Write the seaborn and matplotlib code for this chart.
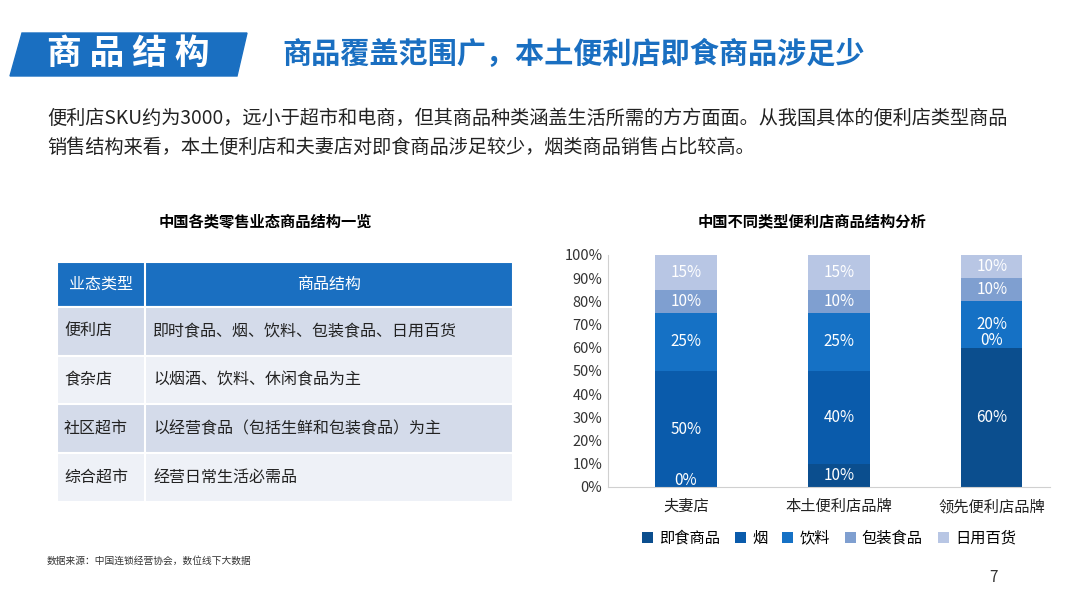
import matplotlib
matplotlib.use("Agg")
import matplotlib.pyplot as plt
import seaborn as sns
import pandas as pd
from matplotlib.patches import Polygon, Rectangle

plt.rcParams["font.family"] = "Noto Sans CJK SC"

stores = ["夫妻店", "本土便利店品牌", "领先便利店品牌"]
series_names = ["即食商品", "烟", "饮料", "包装食品", "日用百货"]
ready_food = [0, 10, 60]
tobacco = [50, 40, 0]
drinks = [25, 25, 20]
packaged = [10, 10, 10]
daily = [15, 15, 10]
series_values = [ready_food, tobacco, drinks, packaged, daily]
colors = ["#0b4e8e", "#0a5bab", "#1571c5", "#7f9fd0", "#b8c6e4"]
yticks = list(range(0, 101, 10))

table_header = ["业态类型", "商品结构"]
table_types = ["便利店", "食杂店", "社区超市", "综合超市"]
table_struct = ["即时食品、烟、饮料、包装食品、日用百货", "以烟酒、饮料、休闲食品为主",
                "以经营食品（包括生鲜和包装食品）为主", "经营日常生活必需品"]

W, H = 1080, 607
fig = plt.figure(figsize=(10.8, 6.07), dpi=100)
fig.patch.set_facecolor("white")

def fx(x): return x / W
def fy(y): return 1 - y / H

blue = "#1a6fc1"
fig.patches.append(Polygon([(fx(22), fy(33)), (fx(247), fy(33)), (fx(237), fy(76)), (fx(10), fy(76))],
                           closed=True, transform=fig.transFigure, color=blue))
fig.text(fx(128), fy(53), "商 品 结 构", color="white", fontsize=25, fontweight="bold", ha="center", va="center")
fig.text(fx(282), fy(54), "商品覆盖范围广，本土便利店即食商品涉足少", color=blue, fontsize=21,
         fontweight="bold", ha="left", va="center")
fig.text(fx(47), fy(118), "便利店SKU约为3000，远小于超市和电商，但其商品种类涵盖生活所需的方方面面。从我国具体的便利店类型商品",
         fontsize=13.8, color="#222222", ha="left", va="center")
fig.text(fx(47), fy(147), "销售结构来看，本土便利店和夫妻店对即食商品涉足较少，烟类商品销售占比较高。",
         fontsize=13.8, color="#222222", ha="left", va="center")

# table
fig.text(fx(265), fy(221), "中国各类零售业态商品结构一览", fontsize=11, fontweight="bold", ha="center", va="center")
rows_y = [262, 307, 356, 404, 453, 502]
x0, xs, x1 = 57, 145, 513
fills = [blue, "#d4dbea", "#eef1f7", "#d4dbea", "#eef1f7"]
for i in range(5):
    ytop, ybot = rows_y[i], rows_y[i + 1]
    fig.patches.append(Rectangle((fx(x0), fy(ybot)), fx(x1 - x0), (ybot - ytop) / H,
                                 transform=fig.transFigure, facecolor=fills[i], edgecolor="white", lw=1.5))
    fig.lines.append(plt.Line2D([fx(xs), fx(xs)], [fy(ytop), fy(ybot)], transform=fig.transFigure, color="white", lw=1.5))
    yc = fy((ytop + ybot) / 2)
    if i == 0:
        fig.text(fx(101), yc, table_header[0], color="white", fontsize=11.5, ha="center", va="center")
        fig.text(fx(329), yc, table_header[1], color="white", fontsize=11.5, ha="center", va="center")
    else:
        fig.text(fx(64), yc, table_types[i - 1], color="#222222", fontsize=11.5, ha="left", va="center")
        fig.text(fx(153), yc, table_struct[i - 1], color="#222222", fontsize=11.5, ha="left", va="center")

fig.text(fx(47), fy(561), "数据来源：中国连锁经营协会，数位线下大数据", fontsize=7, color="#333333", ha="left", va="center")
fig.text(fx(993), fy(578), "7", fontsize=11, color="#333333", ha="center", va="center")

# chart
fig.text(fx(812), fy(221), "中国不同类型便利店商品结构分析", fontsize=11, fontweight="bold", ha="center", va="center")
ax = fig.add_axes([fx(608), fy(487), fx(1050 - 608), (487 - 255) / H])
bottom = [0, 0, 0]
for name, vals, c in zip(series_names, series_values, colors):
    df = pd.DataFrame({"store": stores, "v": vals})
    sns.barplot(data=df, x="store", y="v", ax=ax, color=c, bottom=bottom, width=0.4,
                label=name, saturation=1, edgecolor="none")
    for j, v in enumerate(vals):
        yy = bottom[j] + v / 2 if v > 0 else bottom[j] + 3
        ax.text(j, yy, f"{v}%", color="white", fontsize=11, ha="center", va="center")
    bottom = [b + v for b, v in zip(bottom, vals)]

ax.set_xlim(-0.51, 2.38)
ax.set_ylim(0, 100)
ax.set_yticks(yticks)
ax.set_yticklabels([f"{t}%" for t in yticks], fontsize=10.5, color="#333333")
ax.tick_params(axis="x", labelsize=11, colors="#222222", length=0, pad=8)
ax.tick_params(axis="y", length=0, pad=4)
ax.set_xlabel("")
ax.set_ylabel("")
for s in ["top", "right"]:
    ax.spines[s].set_visible(False)
for s in ["left", "bottom"]:
    ax.spines[s].set_color("#d0d0d0")
ax.legend(loc="center", bbox_to_anchor=(0.5, -0.22), ncol=5, frameon=False, fontsize=11,
          handlelength=0.7, handleheight=0.7, columnspacing=1.0, handletextpad=0.4)

fig.savefig("out.png", dpi=100)
